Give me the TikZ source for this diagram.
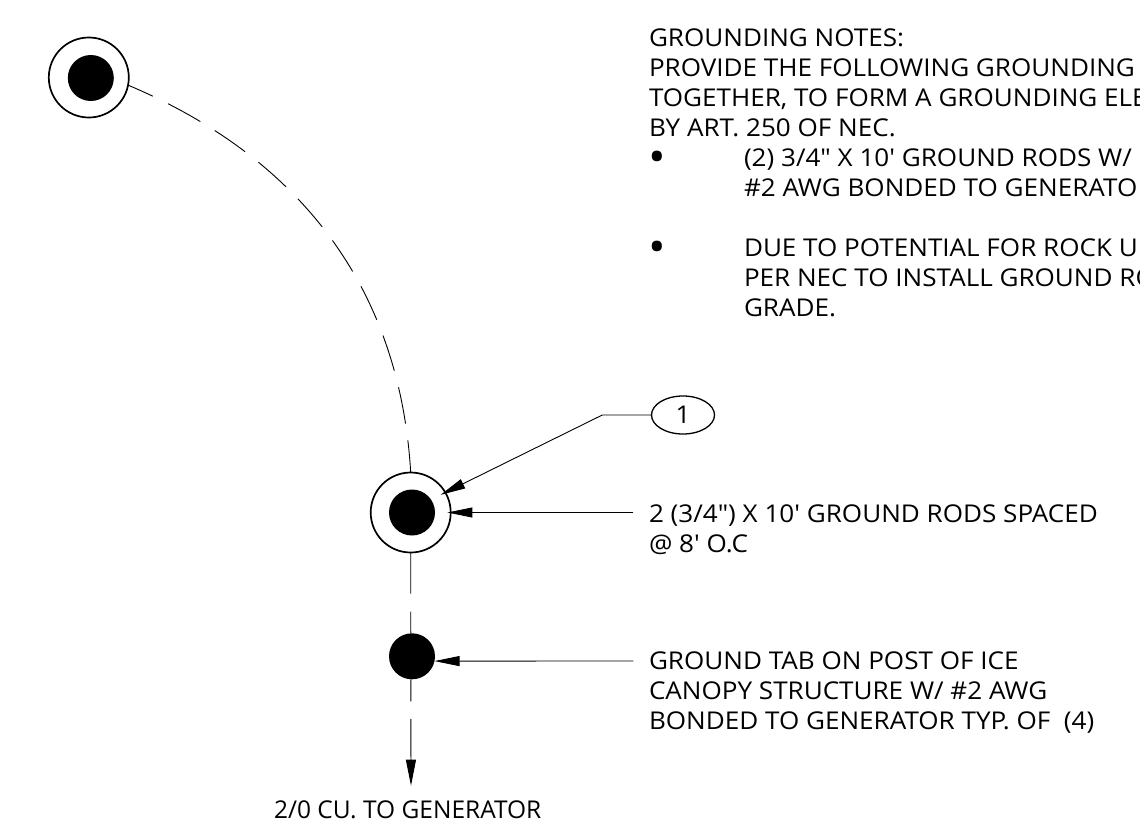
\documentclass[tikz,border=0pt]{standalone}
\usepackage{fontspec}
\newfontfamily\notefont[FakeStretch=1.064]{Open Sans}
\newfontfamily\genfont{Open Sans}
\usetikzlibrary{arrows.meta,shapes.geometric}
\newcommand{\leadstrut}{\rule{0pt}{20pt}}
\newcommand{\bigbullet}{\raisebox{-6pt}{\fontsize{44}{30}\selectfont •}}
\tikzset{
  rodring/.style={circle,draw=black,line width=1.7pt,minimum size=80pt,inner sep=0pt,outer sep=0pt},
  rodcore/.style={circle,fill=black,minimum size=46pt,inner sep=0pt,outer sep=0pt},
  leader/.style={draw=black,line width=0.9pt},
  pointer/.style={leader,-{Triangle[length=25pt,width=10pt]},shorten >=-3.3pt},
  notetext/.style={anchor=north west,inner sep=0pt,outer sep=0pt,align=left,font=\notefont\fontsize{24.5}{30}\selectfont},
  gentext/.style={notetext,font=\genfont\fontsize{24.5}{30}\selectfont},
  callout/.style={ellipse,draw=black,line width=1.3pt,minimum width=63pt,minimum height=38pt,inner sep=0pt,font=\notefont\fontsize{24.5}{30}\selectfont}
}
\begin{document}
\begin{tikzpicture}[x=1pt,y=-1pt]
\useasboundingbox (0,0) rectangle (1140,830);
% rods and tab
\node[rodring] (rodA) at (88.8,77.5) {};
\node[rodcore] (coreA) at (90.8,78) {};
\node[rodring] (rodB) at (410.7,512.5) {};
\node[rodcore] (coreB) at (412,512.5) {};
\node[rodcore] (tab) at (412,656.3) {};
% wire
\draw[leader,dash pattern=on 37pt off 17pt,dash phase=10pt]
  (rodA.-11) .. controls (303,159) and (400,291) .. (rodB.north);
\draw[leader,dash pattern=on 41pt off 18pt on 100pt]
  (rodB.south) -- (tab.93);
\coordinate (genend) at (411,785.7);
\draw[leader,dash pattern=on 22pt off 17.5pt on 100pt,-{Triangle[length=26pt,width=10pt]}]
  (tab.-93) -- (genend);
% callout
\node[callout] (mark) at (683,415) {1};
\coordinate (bend) at (602.3,415);
\draw[pointer,shorten >=-5.3pt] (mark.west) -- (bend) -- (rodB.30);
% leaders
\coordinate (leadB) at (633.3,512.5);
\draw[pointer] (leadB) -- (rodB.east);
\coordinate (leadT) at (633.3,661);
\draw[pointer,shorten >=0pt] (leadT) -- (tab.-12);
% notes
\begin{scope}
\clip (0,0) rectangle (1140,830);
\node[notetext] (notes) at (649,26) {\leadstrut GROUNDING NOTES:\\PROVIDE THE FOLLOWING GROUNDING\\TOGETHER, TO FORM A GROUNDING ELE\\BY ART. 250 OF NEC.};
\node[notetext] (bulA) at (648,146) {\leadstrut\bigbullet};
\node[notetext] (noteA) at (744,146) {\leadstrut (2) 3/4" X 10' GROUND RODS W/\\\#2 AWG BONDED TO GENERATO};
\node[notetext] (bulB) at (648,236) {\leadstrut\bigbullet};
\node[notetext] (noteB) at (744,236) {\leadstrut DUE TO POTENTIAL FOR ROCK U\\PER NEC TO INSTALL GROUND RO\\GRADE.};
\end{scope}
\node[notetext] (labB) at (649,502.5) {\leadstrut 2 (3/4") X 10' GROUND RODS SPACED\\@ 8' O.C};
\node[notetext] (labT) at (649,649) {\leadstrut GROUND TAB ON POST OF ICE\\CANOPY STRUCTURE W/ \#2 AWG\\BONDED TO GENERATOR TYP. OF\ \ (4)};
\node[gentext] (labG) at (274,798) {\leadstrut 2/0 CU. TO GENERATOR};
\end{tikzpicture}
\end{document}
